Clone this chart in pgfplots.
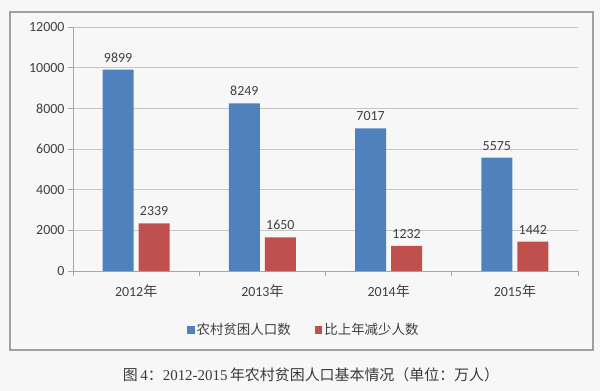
\documentclass[border=0pt]{standalone}
\usepackage{pgfplots}
\pgfplotsset{compat=1.18}
\usepackage{fontspec}
\setmainfont{Carlito}
\newfontfamily\cjk{Noto Sans CJK SC}
\newfontfamily\capfont{Liberation Serif}
\definecolor{bgc}{HTML}{F7F7F7}
\definecolor{bordc}{HTML}{A0A0A0}
\definecolor{sblue}{HTML}{4F81BD}
\definecolor{sred}{HTML}{C0504D}
\definecolor{txt}{HTML}{404040}
\begin{document}
\begin{tikzpicture}
\fill[bgc] (0,0) rectangle (600bp,-391bp);
\draw[bordc, line width=1.2bp] (10bp,-12bp) rectangle (593bp,-350bp);
\begin{axis}[
  at={(73bp,-271bp)}, anchor=south west,
  scale only axis, width=505bp, height=244bp,
  ymin=0, ymax=12000, ytick={0,2000,...,12000},
  xmin=-0.5, xmax=3.5, xtick={0,1,2,3},
  xticklabels={2012{\cjk 年},2013{\cjk 年},2014{\cjk 年},2015{\cjk 年}},
  minor xtick={-0.5,0.5,1.5,2.5,3.5},
  major x tick style={draw=none},
  minor tick length=5bp, major tick length=5bp,
  tick align=outside,
  tick style={draw=gray!70, line width=0.8bp},
  ymajorgrids, grid style={draw=gray!45, line width=0.9bp},
  axis x line*=bottom, axis y line*=left,
  axis line style={draw=gray!70, line width=0.9bp, -},
  scaled y ticks=false,
  /pgf/number format/assume math mode=true,
  /pgf/number format/1000 sep={},
  tick label style={font=\fontsize{14}{16}\selectfont, text=txt},
  xticklabel style={yshift=-5bp},
  ybar, bar width=31bp,
  nodes near coords,
  every node near coord/.append style={font=\fontsize{14}{16}\selectfont, text=txt, yshift=4bp},
  legend style={at={(0.457,-0.242)}, anchor=center, draw=none, fill=none,
    font=\cjk\fontsize{13.5}{15}\selectfont, text=txt,
    /tikz/every even column/.append style={column sep=22bp}},
  legend columns=2,
]
\addplot[fill=sblue, draw=none, bar shift=-18bp,
  legend image code/.code={\fill[sblue] (0bp,-3.8bp) rectangle (7.6bp,3.8bp);}]
  coordinates {(0,9899) (1,8249) (2,7017) (3,5575)};
\addlegendentry{农村贫困人口数}
\addplot[fill=sred, draw=none, bar shift=18bp,
  legend image code/.code={\fill[sred] (0bp,-3.8bp) rectangle (7.6bp,3.8bp);}]
  coordinates {(0,2339) (1,1650) (2,1232) (3,1442)};
\addlegendentry{比上年减少人数}
\end{axis}
\node[text=txt!90!black, font=\fontsize{15}{17}\selectfont] at (311bp,-375bp)
  {{\cjk 图}\,{\capfont 4}{\cjk ：}{\capfont 2012-2015}\,{\cjk 年农村贫困人口基本情况（单位：万人）}};
\end{tikzpicture}
\end{document}
